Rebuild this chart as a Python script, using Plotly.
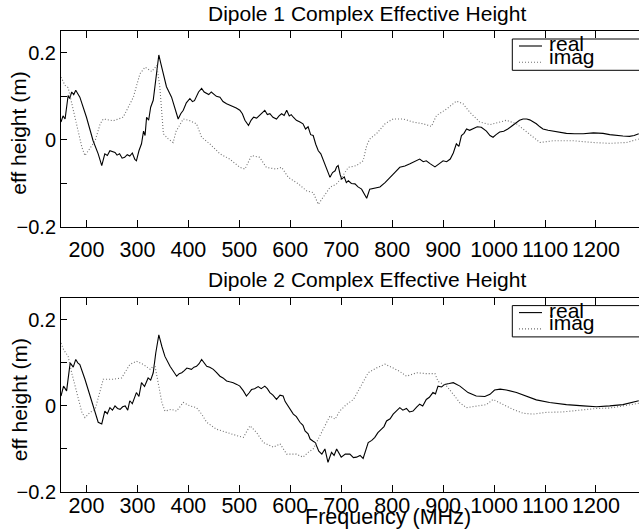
import plotly.graph_objects as go
from plotly.subplots import make_subplots

# ---------------- data ----------------
d1_real_f = [150,154,158,161,164,167,171,175,179,183,187,200,213,223,230,236,241,246,256,260,265,270,275,280,285,290,295,298,303,308,312,315,318,322,326,331,336,342,346,351,357,367,373,380,385,390,396,403,408,412,420,426,431,435,440,445,449,455,462,468,475,481,488,494,501,506,511,518,523,528,534,540,545,550,555,560,566,573,578,583,588,593,598,602,606,612,619,625,630,635,640,645,650,655,660,664,668,673,678,683,688,691,694,698,701,706,710,714,720,727,733,740,745,750,756,766,776,786,795,805,815,825,835,845,854,861,867,875,884,892,900,907,914,920,926,931,936,941,946,952,959,967,975,985,992,998,1004,1011,1019,1027,1035,1044,1050,1057,1064,1070,1077,1083,1090,1096,1106,1116,1129,1142,1158,1175,1195,1214,1227,1240,1253,1266,1275,1284]
d1_real_v = [0.041,0.055,0.048,0.07,0.102,0.095,0.11,0.104,0.114,0.106,0.098,0.052,-0.002,-0.032,-0.059,-0.032,-0.036,-0.025,-0.029,-0.035,-0.032,-0.042,-0.04,-0.034,-0.037,-0.03,-0.045,-0.048,-0.025,-0.009,0.02,0.01,0.052,0.045,0.075,0.091,0.144,0.195,0.175,0.152,0.122,0.098,0.075,0.048,0.06,0.068,0.085,0.095,0.088,0.09,0.11,0.118,0.11,0.108,0.104,0.11,0.106,0.1,0.098,0.088,0.083,0.08,0.077,0.073,0.068,0.06,0.045,0.033,0.045,0.052,0.05,0.056,0.062,0.068,0.058,0.06,0.052,0.048,0.055,0.06,0.056,0.068,0.055,0.058,0.052,0.045,0.041,0.037,0.025,0.03,0.012,0.01,-0.01,-0.025,-0.032,-0.045,-0.055,-0.07,-0.086,-0.075,-0.071,-0.062,-0.059,-0.08,-0.09,-0.085,-0.098,-0.094,-0.1,-0.101,-0.108,-0.113,-0.125,-0.134,-0.113,-0.11,-0.108,-0.098,-0.086,-0.075,-0.063,-0.06,-0.055,-0.05,-0.044,-0.05,-0.048,-0.055,-0.062,-0.055,-0.048,-0.05,-0.044,-0.03,-0.009,-0.015,0.01,0.015,0.025,0.022,0.025,0.03,0.029,0.02,0.01,0.006,0.012,0.018,0.02,0.025,0.032,0.041,0.045,0.048,0.048,0.046,0.042,0.037,0.03,0.025,0.022,0.02,0.017,0.015,0.014,0.014,0.016,0.015,0.012,0.01,0.009,0.008,0.01,0.014]

d1_imag_f = [150,158,164,171,181,191,197,206,217,227,233,253,272,292,305,315,328,338,344,351,360,370,376,390,403,416,426,442,462,481,501,511,524,540,553,573,583,596,616,632,645,655,660,678,691,701,714,730,743,750,756,769,786,802,822,841,861,877,887,907,926,939,952,972,992,1010,1024,1044,1064,1090,1116,1155,1194,1227,1260,1284]
d1_imag_v = [0.144,0.125,0.12,0.083,0.029,-0.017,-0.036,-0.021,-0.002,0.037,0.048,0.044,0.052,0.098,0.152,0.167,0.157,0.171,0.121,0.014,0.003,-0.006,0.02,0.048,0.044,0.037,0.006,-0.009,-0.032,-0.044,-0.063,-0.067,-0.036,-0.04,-0.063,-0.067,-0.063,-0.086,-0.101,-0.117,-0.121,-0.148,-0.14,-0.109,-0.101,-0.086,-0.063,-0.059,-0.048,-0.013,0.002,0.014,0.037,0.048,0.048,0.041,0.037,0.031,0.056,0.071,0.089,0.083,0.064,0.041,0.035,0.04,0.045,0.037,0.018,-0.006,-0.002,-0.002,-0.006,-0.008,-0.006,0.002]

d2_real_f = [150,155,161,164,168,174,179,183,187,197,207,217,223,230,236,241,246,251,256,261,266,271,276,281,285,290,298,303,308,314,321,326,331,336,342,348,354,364,370,377,382,387,392,397,406,411,416,421,426,431,436,442,449,455,462,468,475,481,488,495,501,508,514,519,524,530,537,543,550,555,560,566,573,580,586,590,596,602,606,612,619,625,629,635,639,645,649,656,662,668,674,681,686,691,696,700,708,717,724,730,737,743,753,760,766,772,779,784,789,796,802,808,815,821,828,834,841,848,854,860,867,873,880,885,890,897,903,912,920,933,949,965,982,992,1001,1012,1024,1044,1063,1083,1109,1142,1175,1201,1227,1253,1284]
d2_real_v = [0.023,0.046,0.035,0.062,0.1,0.09,0.108,0.1,0.096,0.062,0.023,-0.015,-0.038,-0.042,-0.012,-0.018,-0.004,-0.01,0.0,-0.006,-0.008,-0.002,0.0,-0.01,0.012,0.005,0.031,0.022,0.054,0.045,0.065,0.06,0.077,0.123,0.165,0.138,0.115,0.092,0.08,0.069,0.075,0.077,0.082,0.088,0.085,0.09,0.092,0.098,0.108,0.1,0.092,0.09,0.085,0.078,0.069,0.065,0.058,0.056,0.054,0.05,0.046,0.035,0.023,0.03,0.038,0.04,0.045,0.04,0.046,0.04,0.031,0.025,0.015,0.025,0.023,0.01,0.0,-0.012,-0.019,-0.025,-0.038,-0.045,-0.058,-0.065,-0.077,-0.082,-0.085,-0.105,-0.112,-0.1,-0.131,-0.108,-0.115,-0.1,-0.11,-0.119,-0.112,-0.112,-0.12,-0.119,-0.115,-0.122,-0.085,-0.08,-0.073,-0.062,-0.054,-0.048,-0.035,-0.03,-0.019,-0.012,-0.004,-0.01,-0.006,-0.014,-0.012,-0.003,0.004,0.0,0.015,0.02,0.031,0.028,0.046,0.044,0.05,0.052,0.054,0.046,0.031,0.023,0.022,0.027,0.037,0.039,0.037,0.031,0.023,0.014,0.008,0.003,0.0,-0.002,0.0,0.003,0.012]

d2_imag_f = [150,155,164,171,181,191,197,207,217,227,233,253,269,285,298,312,325,334,341,348,354,367,377,390,403,416,426,436,455,475,495,508,521,534,547,567,580,593,612,625,635,645,658,668,678,688,697,710,724,733,743,753,769,786,802,815,828,848,867,884,890,907,920,933,946,966,985,998,1018,1037,1057,1077,1103,1135,1175,1201,1227,1253,1284]
d2_imag_v = [0.146,0.131,0.115,0.077,0.031,-0.015,-0.027,-0.015,-0.008,0.038,0.062,0.062,0.065,0.096,0.104,0.096,0.085,0.096,0.054,0.008,-0.012,-0.008,-0.012,0.008,0.0,-0.004,-0.019,-0.038,-0.054,-0.062,-0.069,-0.073,-0.046,-0.062,-0.085,-0.096,-0.088,-0.112,-0.112,-0.119,-0.108,-0.1,-0.07,-0.046,-0.023,-0.031,-0.012,0.003,0.015,0.034,0.057,0.077,0.088,0.097,0.088,0.08,0.069,0.077,0.075,0.075,0.057,0.046,0.027,0.007,-0.004,0.0,0.003,0.015,0.004,-0.008,-0.017,-0.019,-0.015,-0.014,-0.009,-0.006,-0.005,0.0,0.006]

titles = ["Dipole 1 Complex Effective Height", "Dipole 2 Complex Effective Height"]
series_names = ["real", "imag"]
x_ticks = [200, 300, 400, 500, 600, 700, 800, 900, 1000, 1100, 1200]
y_ticks = [-0.2, -0.1, 0, 0.1, 0.2]
y_ticktext = ["\u22120.2", "", "0", "", "0.2"]
y_label = "eff height (m)"
x_label = "Frequency (MHz)"

# ---------------- layout geometry (pixels) ----------------
W, H = 639, 529
ML, MR, MT, MB = 61, 0, 31, 37
PW, PH = W - ML - MR, H - MT - MB
def px(x):
    return (x - ML) / PW
def py(y):
    return (H - MB - y) / PH

FONT = "Liberation Sans, Arial, Helvetica, sans-serif"
DOT = "1px,2px"

fig = make_subplots(rows=2, cols=1, vertical_spacing=0.0)
fig.update_layout(
    width=W, height=H, margin=dict(l=ML, r=MR, t=MT, b=MB),
    paper_bgcolor="white", plot_bgcolor="white", showlegend=False,
    font=dict(family=FONT, size=20, color="black"),
    xaxis=dict(domain=[0, 1]), yaxis=dict(domain=[py(227), 1.0]),
    xaxis2=dict(domain=[0, 1]), yaxis2=dict(domain=[0.0, py(298.3)]),
)

data = [
    (d1_real_f, d1_real_v, d1_imag_f, d1_imag_v),
    (d2_real_f, d2_real_v, d2_imag_f, d2_imag_v),
]
for i, (rf, rv, imf, imv) in enumerate(data):
    row = i + 1
    fig.add_trace(go.Scatter(x=rf, y=rv, mode="lines", name=series_names[0],
                             line=dict(color="black", width=1.1)), row=row, col=1)
    fig.add_trace(go.Scatter(x=imf, y=imv, mode="lines", name=series_names[1],
                             line=dict(color="#707070", width=1.1, dash=DOT)), row=row, col=1)

for row in (1, 2):
    fig.update_xaxes(row=row, col=1, range=[150, 1284.5], tickvals=x_ticks,
                     ticks="inside", ticklen=7, tickcolor="black", showline=True,
                     linecolor="black", linewidth=1, mirror="ticks", showgrid=False,
                     zeroline=False, tickfont=dict(size=21.5, family=FONT))
    fig.update_yaxes(row=row, col=1, range=[-0.2, 0.25], tickvals=y_ticks,
                     ticktext=y_ticktext, ticks="inside", ticklen=6, tickcolor="black",
                     showline=True, linecolor="black", linewidth=1, mirror=False,
                     showgrid=False, zeroline=False, tickfont=dict(size=20, family=FONT))

fig.update_xaxes(row=1, col=1, ticklabelstandoff=3)
fig.update_xaxes(row=2, col=1, ticklabelstandoff=-6)

annotations = []
shapes = []
tops = [31.7, 298.3]
for i in range(2):
    t = tops[i]
    # title
    annotations.append(dict(text=titles[i], x=px(367), y=py(t - 18.5), xref="paper", yref="paper",
                            xanchor="center", yanchor="middle", showarrow=False,
                            font=dict(size=21, family=FONT)))
    # y label
    annotations.append(dict(text=y_label, x=px(19), y=py(t + 102), xref="paper", yref="paper",
                            xanchor="center", yanchor="middle", textangle=-90, showarrow=False,
                            font=dict(size=21, family=FONT)))
    # legend box
    shapes.append(dict(type="rect", xref="paper", yref="paper", x0=px(512.3), x1=px(660),
                       y0=py(t + 38.6), y1=py(t + 7.3), line=dict(color="black", width=1),
                       fillcolor="white", layer="above"))
    shapes.append(dict(type="line", xref="paper", yref="paper", x0=px(519), x1=px(542),
                       y0=py(t + 14.3), y1=py(t + 14.3), line=dict(color="black", width=1.1)))
    shapes.append(dict(type="line", xref="paper", yref="paper", x0=px(519), x1=px(542),
                       y0=py(t + 30.6), y1=py(t + 30.6),
                       line=dict(color="#707070", width=1.1, dash=DOT)))
    annotations.append(dict(text=series_names[0], x=px(547), y=py(t + 12.0), xref="paper", yref="paper",
                            xanchor="left", yanchor="middle", showarrow=False,
                            font=dict(size=21, family=FONT)))
    annotations.append(dict(text=series_names[1], x=px(547), y=py(t + 24.5), xref="paper", yref="paper",
                            xanchor="left", yanchor="middle", showarrow=False,
                            font=dict(size=21, family=FONT)))

annotations.append(dict(text=x_label, x=px(388), y=py(517), xref="paper", yref="paper",
                        xanchor="center", yanchor="middle", showarrow=False,
                        font=dict(size=21.5, family=FONT)))
fig.update_layout(annotations=annotations, shapes=shapes)

fig.write_html("out.html")
